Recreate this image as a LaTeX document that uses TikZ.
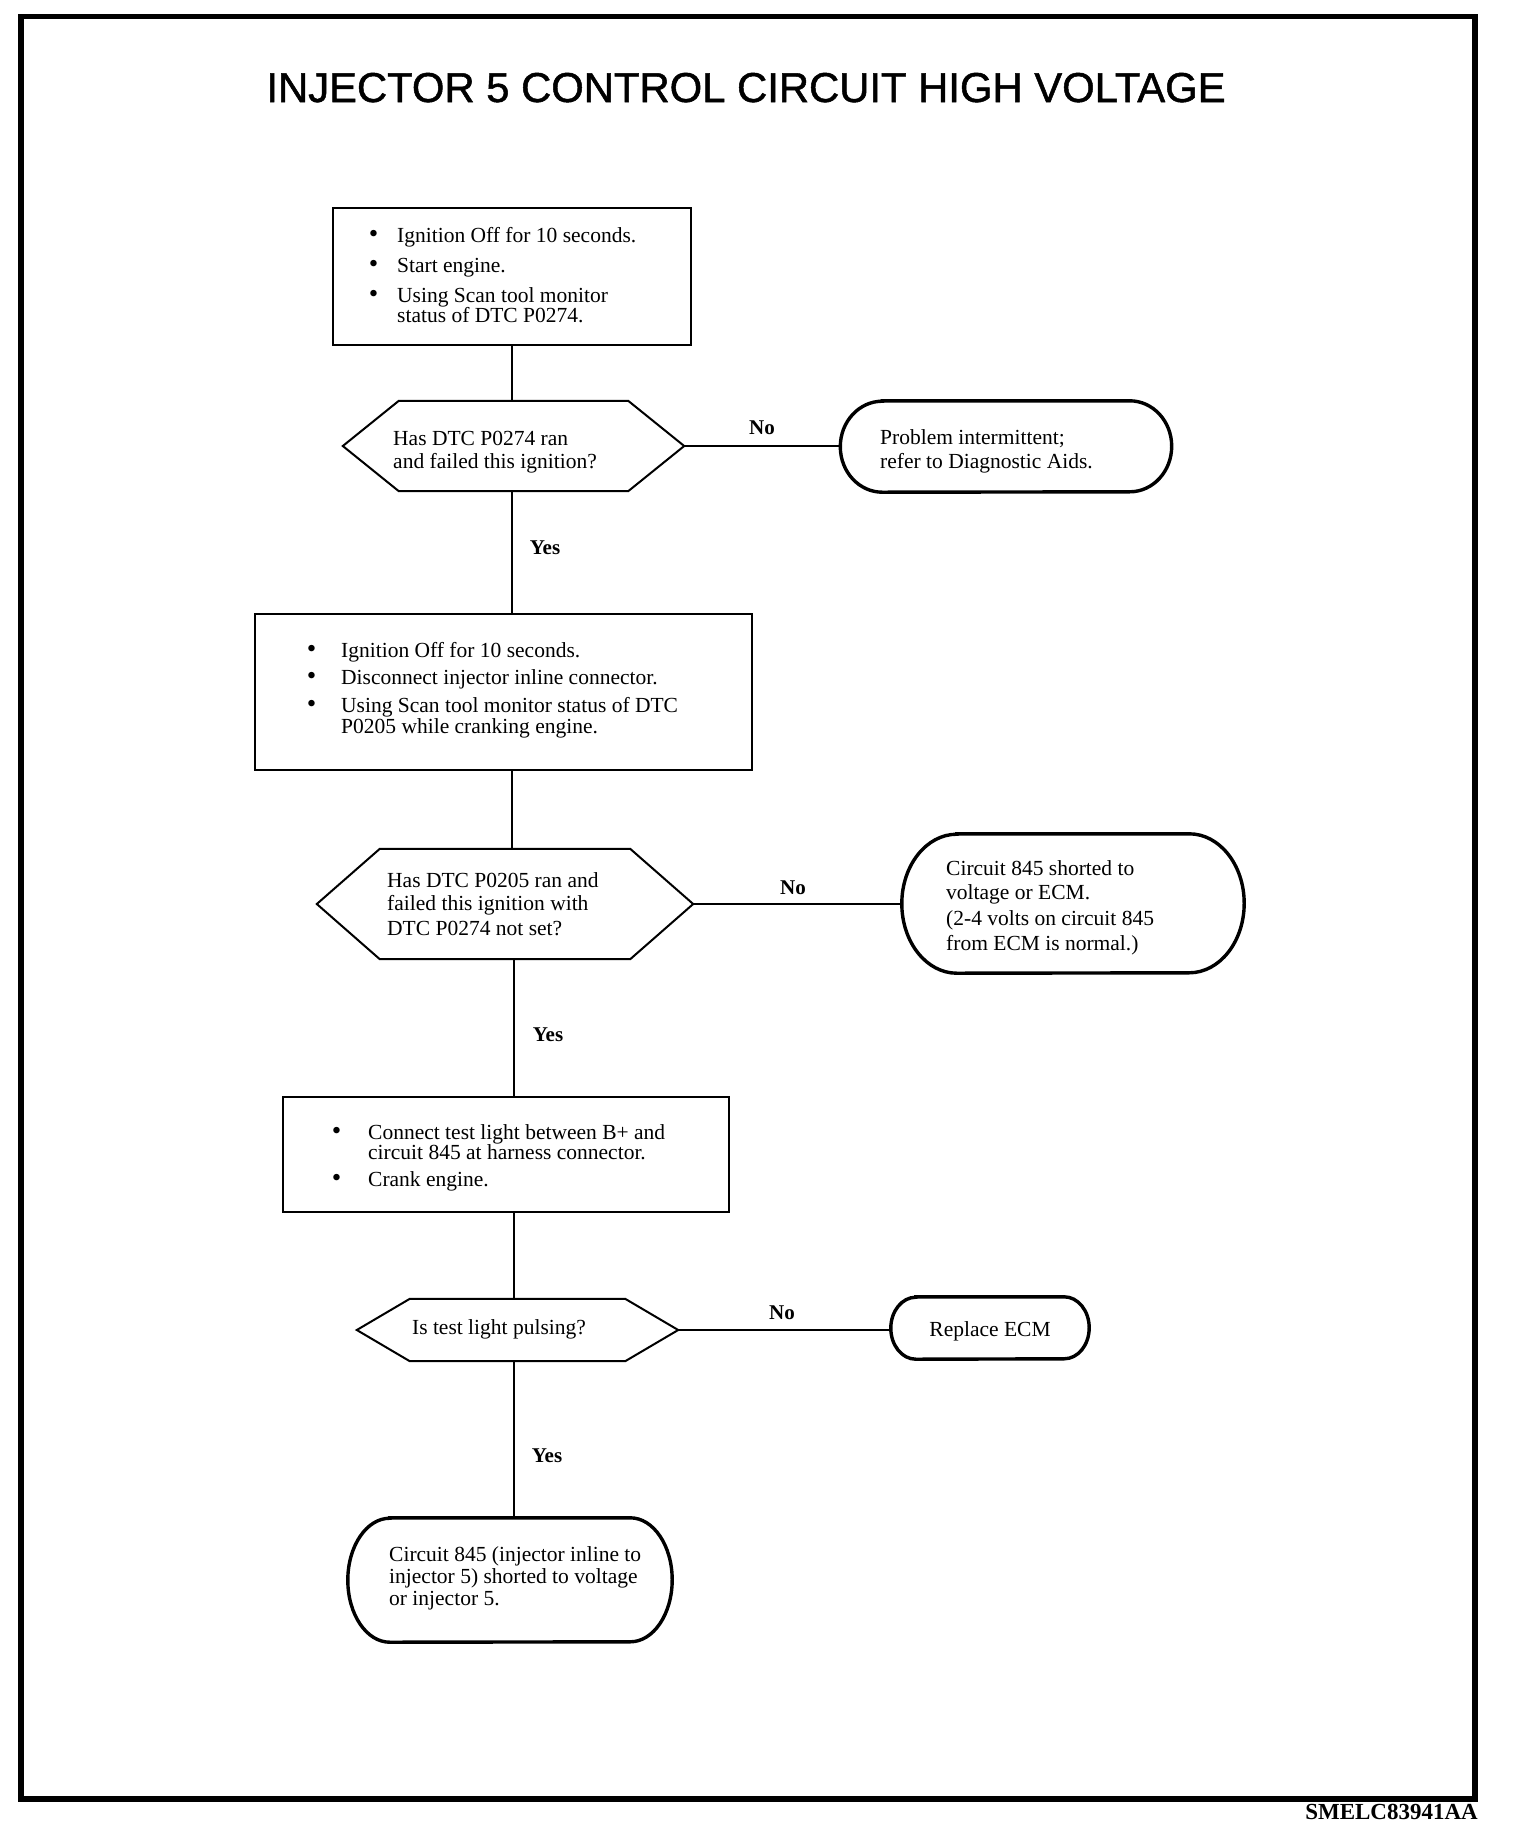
\documentclass[tikz,border=0pt]{standalone}
\usepackage{fontspec}
\setmainfont{Liberation Serif}
\newfontfamily\titlefont[FakeBold=1.2]{Liberation Sans}
\newcommand\hexo[2]{\draw[shapeline] ([xshift=#2]#1.north west) -- ([xshift=-#2]#1.north east) -- (#1.east) -- ([xshift=-#2]#1.south east) -- ([xshift=#2]#1.south west) -- (#1.west) -- cycle;}
\newcommand\termo[3]{\draw[termline] ([xshift=#2]#1.north west) -- ([xshift=-#2]#1.north east) arc[start angle=90,end angle=-90,x radius=#2,y radius=#3] -- ([xshift=#2]#1.south west) arc[start angle=270,end angle=90,x radius=#2,y radius=#3] -- cycle;}
\newcommand\bul[1]{\llap{{\fontsize{27}{21}\selectfont•}\hspace{#1}}}
\begin{document}
\begin{tikzpicture}[x=1pt,y=-1pt,
  stepbox/.style={draw, line width=2.2pt, inner sep=0pt},
  ghost/.style={draw=none, inner sep=0pt},
  shapeline/.style={line width=2pt, line join=miter},
  termline/.style={line width=3.4pt},
  conn/.style={line width=1.8pt},
  txt/.style={inner sep=0pt, align=left, font=\fontsize{21.5}{21}\selectfont},
  lbl/.style={inner sep=0pt, font=\fontsize{21}{21}\selectfont\bfseries}]
\useasboundingbox (0,0) rectangle (1520,1832);
\node[draw, line width=5.5pt, inner sep=0pt, minimum width=1454pt, minimum height=1782.5pt] (frame) at (748,907.75) {};
\node[inner sep=0pt, anchor=base, font=\titlefont\fontsize{41.8}{41}\selectfont] (title) at (746,102) {INJECTOR 5 CONTROL CIRCUIT HIGH VOLTAGE};
% boxes
\node[stepbox, minimum width=358pt, minimum height=137pt] (b1) at (512,276.5) {};
\node[stepbox, minimum width=497pt, minimum height=156pt] (b2) at (503.5,692) {};
\node[stepbox, minimum width=446pt, minimum height=115pt] (b3) at (506,1154.5) {};
% decisions
\node[ghost, minimum width=341pt, minimum height=90pt] (h1) at (513.5,446) {};
\node[ghost, minimum width=376pt, minimum height=110pt] (h2) at (505,904) {};
\node[ghost, minimum width=321pt, minimum height=62pt] (h3) at (517.5,1330) {};
\hexo{h1}{56pt}
\hexo{h2}{63pt}
\hexo{h3}{53pt}
% terminals
\node[ghost, minimum width=331pt, minimum height=91pt] (t1) at (1006,446.5) {};
\node[ghost, minimum width=342pt, minimum height=139pt] (t2) at (1073,903.5) {};
\node[ghost, minimum width=198pt, minimum height=62pt] (t3) at (990,1328) {};
\node[ghost, minimum width=324pt, minimum height=124pt] (t4) at (510,1580) {};
\termo{t1}{42pt}{45.5pt}
\termo{t2}{55pt}{69.5pt}
\termo{t3}{25pt}{31pt}
\termo{t4}{42pt}{62pt}
% texts (base anchor = baseline of last line)
\node[txt, anchor=base west] (b1t) at (397,322) {\bul{19pt}Ignition Off for 10 seconds.\\[9pt]\bul{19pt}Start engine.\\[9pt]\bul{19pt}Using Scan tool monitor\\[-1pt]status of DTC P0274.};
\node[txt, anchor=base west] (b2t) at (341,733) {\bul{25pt}Ignition Off for 10 seconds.\\[6pt]\bul{25pt}Disconnect injector inline connector.\\[7pt]\bul{25pt}Using Scan tool monitor status of DTC\\P0205 while cranking engine.};
\node[txt, anchor=base west] (b3t) at (368,1186) {\bul{27pt}Connect test light between B+ and\\[-1pt]circuit 845 at harness connector.\\[6pt]\bul{27pt}Crank engine.};
\node[txt, anchor=base west] (h1t) at (393,468) {Has DTC P0274 ran\\[2pt]and failed this ignition?};
\node[txt, anchor=base west] (t1t) at (880,468) {Problem intermittent;\\[3pt]refer to Diagnostic Aids.};
\node[txt, anchor=base west] (h2t) at (387,935) {Has DTC P0205 ran and\\[2pt]failed this ignition with\\[4pt]DTC P0274 not set?};
\node[txt, anchor=base west] (t2t) at (946,950) {Circuit 845 shorted to\\[3pt]voltage or ECM.\\[5pt](2-4 volts on circuit 845\\[4pt]from ECM is normal.)};
\node[txt, anchor=base] (h3t) at (499,1334) {Is test light pulsing?};
\node[txt, anchor=base] (t3t) at (990,1336) {Replace ECM};
\node[txt, anchor=base west] (t4t) at (389,1605) {Circuit 845 (injector inline to\\[1pt]injector 5) shorted to voltage\\[1pt]or injector 5.};
% connectors
\coordinate (colx) at (514,0);
\draw[conn] (b1.south) -- (b1.south |- h1.north);
\draw[conn] (h1.south -| b1.south) -- (b2.north -| b1.south);
\draw[conn] (b2.south -| b1.south) -- (h2.north -| b1.south);
\draw[conn] (h2.south -| colx) -- (b3.north -| colx);
\draw[conn] (b3.south -| colx) -- (h3.north -| colx);
\draw[conn] (h3.south -| colx) -- (t4.north -| colx);
\draw[conn] (h1.east) -- (t1.west |- h1.east);
\draw[conn] (h2.east) -- (t2.west |- h2.east);
\draw[conn] (h3.east) -- (t3.west |- h3.east);
% labels
\node[lbl] (no1) at (762,428) {No};
\node[lbl] (no2) at (793,888) {No};
\node[lbl] (no3) at (782,1313) {No};
\node[lbl] (yes1) at (545,548) {Yes};
\node[lbl] (yes2) at (548,1035) {Yes};
\node[lbl] (yes3) at (547,1456) {Yes};
\node[inner sep=0pt, anchor=base east, font=\fontsize{23}{23}\selectfont\bfseries] (code) at (1478,1819) {SMELC83941AA};
\end{tikzpicture}
\end{document}
